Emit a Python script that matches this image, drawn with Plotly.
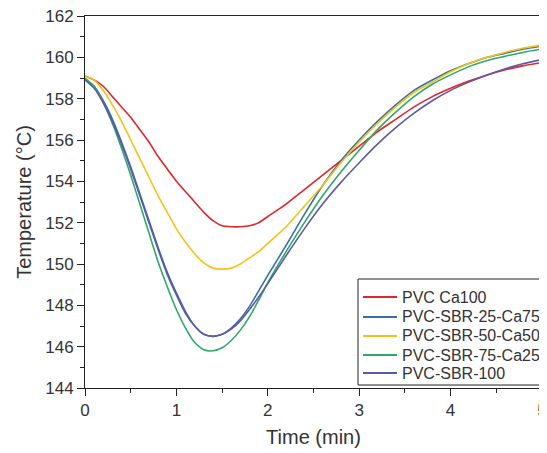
import plotly.graph_objects as go

time_min = [0, 0.1, 0.2, 0.3, 0.4, 0.5, 0.6, 0.7, 0.8, 0.9, 1.0, 1.1, 1.2, 1.3, 1.4,
            1.5, 1.6, 1.7, 1.8, 1.9, 2.0, 2.2, 2.4, 2.6, 2.8, 3.0, 3.2, 3.4, 3.6,
            3.8, 4.0, 4.2, 4.4, 4.6, 4.8, 5.0]

pvc_ca100 = [159.1, 158.9, 158.6, 158.1, 157.6, 157.1, 156.5, 155.9, 155.2, 154.6,
             154.0, 153.5, 153.0, 152.5, 152.1, 151.85, 151.8, 151.8, 151.85, 152.0,
             152.3, 152.9, 153.6, 154.3, 155.0, 155.7, 156.4, 157.0, 157.6, 158.1,
             158.5, 158.85, 159.15, 159.4, 159.6, 159.75]

sbr25_ca75 = [158.95, 158.6, 157.9, 157.0, 155.9, 154.7, 153.4, 152.1, 150.8, 149.6,
              148.6, 147.7, 147.0, 146.6, 146.5, 146.6, 146.9, 147.35, 147.95, 148.7,
              149.45, 150.9, 152.4, 153.8, 155.0, 156.0, 156.9, 157.7, 158.4, 158.9,
              159.35, 159.7, 160.0, 160.2, 160.4, 160.55]

sbr50_ca50 = [159.1, 158.9, 158.4, 157.7, 156.9, 156.0, 155.1, 154.2, 153.3, 152.5,
              151.7, 151.05, 150.5, 150.05, 149.8, 149.75, 149.8, 150.0, 150.3, 150.6,
              151.0, 151.8, 152.8, 153.8, 154.9, 155.9, 156.8, 157.6, 158.3, 158.8,
              159.3, 159.7, 160.0, 160.25, 160.45, 160.6]

sbr75_ca25 = [159.0, 158.6, 157.8, 156.8, 155.6, 154.3, 152.9, 151.5, 150.1, 148.9,
              147.8, 146.9, 146.2, 145.85, 145.8, 145.95, 146.3, 146.8, 147.45, 148.25,
              149.1, 150.6, 152.0, 153.3, 154.45, 155.5, 156.5, 157.35, 158.1, 158.7,
              159.15, 159.55, 159.85, 160.05, 160.25, 160.4]

sbr100 = [158.9, 158.5, 157.8, 156.9, 155.8, 154.6, 153.3, 152.0, 150.7, 149.5,
          148.5, 147.6, 147.0, 146.6, 146.5, 146.6, 146.85, 147.25, 147.8, 148.4,
          149.05, 150.4, 151.7, 152.9, 153.95, 154.9, 155.8, 156.6, 157.3, 157.9,
          158.4, 158.8, 159.15, 159.45, 159.7, 159.9]

series_names = ["PVC Ca100", "PVC-SBR-25-Ca75", "PVC-SBR-50-Ca50", "PVC-SBR-75-Ca25", "PVC-SBR-100"]
series_values = [pvc_ca100, sbr25_ca75, sbr50_ca50, sbr75_ca25, sbr100]
series_colors = ["#e0262b", "#3c6ea4", "#f5c219", "#2fa86a", "#5c5aa3"]

x_ticks = [0, 1, 2, 3, 4, 5]
y_ticks = [144, 146, 148, 150, 152, 154, 156, 158, 160, 162]

fig = go.Figure()
for name, vals, color in zip(series_names, series_values, series_colors):
    fig.add_trace(go.Scatter(x=time_min, y=vals, mode="lines", name=name, showlegend=False,
                             line=dict(color=color, width=1.6, shape="spline", smoothing=0.6)))

font_family = "Liberation Sans, Arial, sans-serif"
axis_common = dict(showgrid=False, zeroline=False, showline=True, linecolor="#222",
                   linewidth=1, mirror=True, ticks="outside", ticklen=7, tickwidth=1,
                   tickcolor="#222", automargin=False, ticklabeloverflow="allow",
                   tickfont=dict(size=17, color="#333", family=font_family))

# legend box drawn in paper coordinates (inside the plot area, lower right)
shapes = [dict(type="rect", xref="paper", yref="paper", x0=0.5974, x1=1.0, y0=0.008, y1=0.293,
               line=dict(color="#222", width=1), fillcolor="white", layer="above")]
annotations = []
row_y = [0.2446, 0.1909, 0.1398, 0.0887, 0.0403]
for name, color, yy in zip(series_names, series_colors, row_y):
    shapes.append(dict(type="line", xref="paper", yref="paper", x0=0.6083, x1=0.6827, y0=yy, y1=yy,
                       line=dict(color=color, width=1.8), layer="above"))
    annotations.append(dict(xref="paper", yref="paper", x=0.6893, y=yy, xanchor="left", yanchor="middle",
                            text=name, showarrow=False,
                            font=dict(size=16, color="#333", family=font_family)))

fig.update_layout(
    width=539, height=445,
    margin=dict(l=77, r=5, t=8, b=65),
    paper_bgcolor="white", plot_bgcolor="white",
    font=dict(family=font_family, color="#333"),
    xaxis=dict(range=[0, 5], tickvals=x_ticks,
               minor=dict(dtick=0.5, ticks="outside", ticklen=4, tickcolor="#222"),
               title=dict(text="Time (min)", font=dict(size=20, color="#333"), standoff=10),
               **axis_common),
    yaxis=dict(range=[144, 162], tickvals=y_ticks,
               minor=dict(dtick=1, ticks="outside", ticklen=4, tickcolor="#222"),
               title=dict(text="Temperature (°C)", font=dict(size=20, color="#333"), standoff=8),
               **axis_common),
    shapes=shapes,
    annotations=annotations,
    showlegend=False,
)

fig.write_html("out.html")
